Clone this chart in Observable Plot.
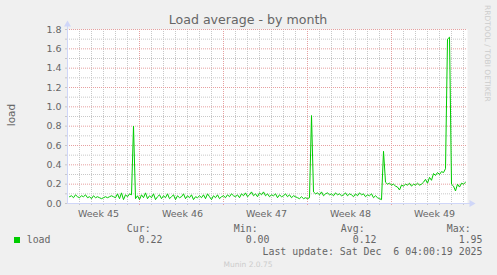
<!DOCTYPE html>
<html><head><meta charset="utf-8">
<script src="https://cdn.jsdelivr.net/npm/d3@7"></script>
<script src="https://cdn.jsdelivr.net/npm/@observablehq/plot@0.6"></script>
<style>
html,body{margin:0;padding:0;background:#f0f0f0;}
#chart svg{display:block;background:#f0f0f0;}
</style></head><body><div id="chart"></div>
<script>
// load average, one value every 4 hours starting Nov 3 04:00
const loadValues = [
  0.07,0.08,0.06,0.09,0.07,0.06,0.08,0.07,0.09,0.06,
  0.07,0.05,0.08,0.06,0.07,0.06,0.05,0.06,0.07,0.06,
  0.07,0.08,0.07,0.06,0.10,0.05,0.11,0.04,0.09,0.07,
  0.10,0.09,
  0.80,
  0.05,0.08,0.04,0.09,0.06,0.11,0.05,0.08,0.06,0.10,
  0.04,0.07,0.09,0.05,0.08,0.06,0.10,0.05,0.07,0.09,
  0.04,0.08,0.06,0.07,0.10,0.05,0.08,0.06,0.09,0.04,
  0.07,0.06,0.08,
  0.06,0.09,0.05,0.10,0.07,0.04,0.08,0.06,0.09,0.05,
  0.07,0.08,0.06,0.09,0.07,0.10,0.08,0.07,0.09,0.06,
  0.10,0.08,0.11,0.07,0.09,0.12,0.08,0.10,0.07,0.11,
  0.09,0.12,0.08,
  0.10,0.07,0.09,0.08,0.10,0.06,0.09,0.07,0.08,0.10,
  0.07,0.09,0.06,0.08,0.07,0.06,0.05,0.07,0.05,0.06,
  0.05,0.06,
  0.91,
  0.12,0.10,0.11,0.09,0.12,0.08,0.10,0.11,0.09,0.10,
  0.08,0.11,0.09,0.10,0.08,0.09,0.11,0.08,0.10,0.09,
  0.07,0.10,0.08,0.11,0.09,0.10,0.07,0.09,0.08,0.10,
  0.06,0.08,0.06,0.05,0.04,
  0.54,
  0.22,0.20,0.21,0.19,0.20,0.18,0.17,0.14,0.19,0.18,
  0.20,0.19,0.21,0.18,0.20,0.19,0.21,0.19,
  0.20,0.22,0.25,0.21,0.27,0.24,0.31,0.29,0.32,0.30,
  0.33,0.32,0.36,
  1.70,1.72,
  0.20,0.18,0.13,0.20,0.17,0.21,0.20,0.22
];
const seriesStart = "2025-11-03T04:00:00Z";
const stepHours = 4;
const axisStart = "2025-11-03T00:00:00Z";
const axisEnd = "2025-12-06T08:00:00Z";
const weekLabels = ["Week 45","Week 46","Week 47","Week 48","Week 49"];
const weekLabelTimes = ["2025-11-05T14:00:00Z","2025-11-12T14:00:00Z","2025-11-19T14:00:00Z","2025-11-26T14:00:00Z","2025-12-03T14:00:00Z"];
const weekLines = ["2025-11-09T00:00:00Z","2025-11-16T00:00:00Z","2025-11-23T00:00:00Z","2025-11-30T00:00:00Z"];
const yMajor = [0,0.2,0.4,0.6,0.8,1.0,1.2,1.4,1.6,1.8];
const yMinor = [0.1,0.3,0.5,0.7,0.9,1.1,1.3,1.5,1.7];
const statNames = ["Cur:","Min:","Avg:","Max:"];
const statValues = ["0.22","0.00","0.12","1.95"];
const lastUpdate = "Last update: Sat Dec  6 04:00:19 2025";
const titleText = "Load average - by month";
const yTitle = "load";
const seriesName = "load";

const t0 = new Date(seriesStart).getTime();
const data = loadValues.map((v, i) => ({t: new Date(t0 + i * stepHours * 3600e3), v}));
const x0 = new Date(axisStart), x1 = new Date(axisEnd);
const weekDates = weekLines.map(d => new Date(d));
const dayLines = d3.utcDay.range(d3.utcDay.offset(x0, 1), x1);
const minorDays = dayLines.filter(d => !weekDates.some(w => +w === +d));
const labelMap = new Map(weekLabelTimes.map((d, i) => [+new Date(d), weekLabels[i]]));

const GRID = "#c8c8c8", MGRID = "#e6a0a0", AXIS = "#cfd6f8", FONT = "#666666";

const chart = Plot.plot({
  width: 497, height: 275,
  marginLeft: 67, marginRight: 30, marginTop: 29, marginBottom: 72,
  style: {background: "#f0f0f0", fontFamily: "DejaVu Sans", fontSize: "9.5px", color: FONT, overflow: "visible"},
  x: {type: "utc", domain: [x0, x1], label: null},
  y: {domain: [0, 1.8], label: null},
  marks: [
    Plot.frame({fill: "white", stroke: null}),
    Plot.ruleY(yMinor, {stroke: GRID, strokeDasharray: "1,1"}),
    Plot.ruleX(minorDays, {stroke: GRID, strokeDasharray: "1,1"}),
    Plot.ruleY(yMajor.filter(d => d > 0), {stroke: MGRID, strokeDasharray: "1,1"}),
    Plot.ruleX(weekDates, {stroke: MGRID, strokeDasharray: "1,1"}),
    Plot.line(data, {x: "t", y: "v", stroke: "#00cc00", strokeWidth: 1}),
    Plot.axisY({ticks: yMajor, tickFormat: d => d.toFixed(1), tickSize: 0, tickPadding: 6, fill: FONT, label: null}),
    Plot.axisY({ticks: [...yMajor, ...yMinor], tickSize: 2, tickFormat: () => "", stroke: GRID, label: null}),
    Plot.axisX({ticks: weekLabelTimes.map(d => new Date(d)), tickFormat: d => labelMap.get(+d), tickSize: 0, tickPadding: 7, fill: FONT, label: null}),
    Plot.axisX({ticks: minorDays, tickSize: 2, tickFormat: () => "", stroke: GRID, label: null}),
    Plot.axisX({ticks: weekDates, tickSize: 2, tickFormat: () => "", stroke: MGRID, label: null}),
    Plot.ruleY([0], {stroke: AXIS, insetRight: -4}),
    Plot.ruleX([x0], {stroke: AXIS, insetTop: -5}),
    Plot.dot([{x: x1, y: 0}], {x: "x", y: "y", symbol: "triangle", rotate: 90, r: 2.6, fill: AXIS, stroke: null, dx: 4}),
    Plot.dot([{x: x0, y: 1.8}], {x: "x", y: "y", symbol: "triangle", r: 2.6, fill: AXIS, stroke: null, dy: -5})
  ]
});
document.getElementById("chart").appendChild(chart);

const svg = d3.select(chart);
function txt(x, y, s, o = {}) {
  const t = svg.append("text")
    .attr("x", x).attr("y", y).text(s)
    .attr("fill", o.fill || FONT)
    .attr("font-family", o.family || "DejaVu Sans")
    .attr("font-size", o.size || 9.5)
    .attr("text-anchor", o.anchor || "start")
    .style("white-space", "pre");
  if (o.transform) t.attr("transform", o.transform).attr("x", 0).attr("y", 0);
  return t;
}
txt(248, 24, titleText, {size: 12.6, anchor: "middle"});
txt(0, 0, yTitle, {size: 10.5, anchor: "middle", transform: "translate(15,115) rotate(-90)"});
txt(0, 0, "RRDTOOL / TOBI OETIKER", {size: 7.5, fill: "#cccccc", transform: "translate(485,5) rotate(90)"});

const mono = {family: "DejaVu Sans Mono", size: 9.9};
svg.append("rect").attr("x", 14).attr("y", 237).attr("width", 6).attr("height", 6).attr("fill", "#00cc00");
txt(26.7, 243.2, seriesName, mono);
const valueEnds = [162.5, 269.5, 376.5, 482.5];
statNames.forEach((n, i) => {
  txt(valueEnds[i] - 11.9, 231.5, n, {...mono, anchor: "end"});
  txt(valueEnds[i], 243.2, statValues[i], {...mono, anchor: "end"});
});
txt(482.5, 254.9, lastUpdate, {...mono, anchor: "end"});
txt(248, 266.7, "Munin 2.0.75", {size: 7.5, fill: "#cccccc", anchor: "middle"});
</script></body></html>
